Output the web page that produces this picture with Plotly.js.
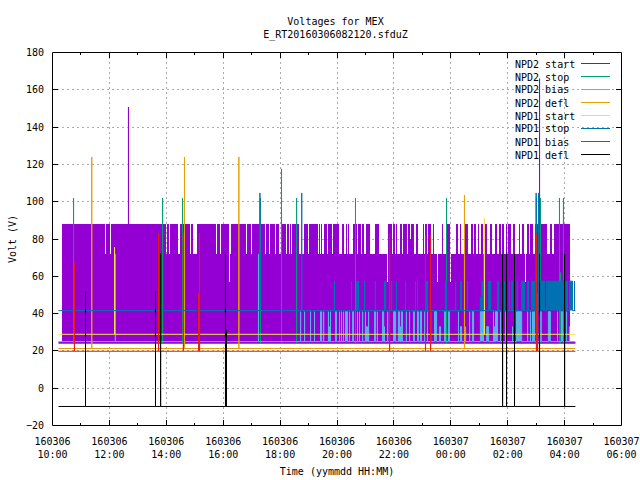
<!DOCTYPE html>
<html>
<head>
<meta charset="utf-8">
<script src="https://cdn.plot.ly/plotly-3.0.1.min.js"></script>
<style>html,body{margin:0;padding:0;background:#fff}</style>
</head>
<body>
<div id="chart" style="width:640px;height:480px"></div>
<script>
// Time axis: hours counted from 160306 00:00
const tickHours = [10,12,14,16,18,20,22,24,26,28,30];
const tickLabels = ["160306<br>10:00","160306<br>12:00","160306<br>14:00","160306<br>16:00","160306<br>18:00","160306<br>20:00","160306<br>22:00","160307<br>00:00","160307<br>02:00","160307<br>04:00","160307<br>06:00"];
const minorHours = [11,13,15,17,19,21,23,25,27,29];
const seriesNames = ["NPD2 start","NPD2 stop","NPD2 bias","NPD2 defl","NPD1 start","NPD1 stop","NPD1 bias","NPD1 defl"];
const seriesColors = ["#9400d3","#009e73","#56b4e9","#e69f00","#f0e442","#0072b2","#e51e10","#000000"];
const seriesStart = 10.21, seriesEnd = 28.38;

// NPD2 start: rapid swing between 24.5 V and 88 V (with drops to lower levels)
const startBase = 24.5, startHigh = 88, startBandBegin = 10.334, startBandEnd = 28.19;
const startGapBegin = [11.845,12.021,13.989,14.094,14.411,14.833,14.938,15.747,15.887,16.204,16.239,16.801,16.977,17.469,17.610,17.821,17.961,18.207,18.313,18.383,18.664,18.980,19.332,19.402,19.473,19.648,19.824,20.070,20.246,20.351,20.422,20.703,20.843,20.949,21.160,21.476,21.757,21.933,22.038,22.109,22.285,22.460,22.566,22.706,22.847,23.058,23.163,23.304,23.409,23.515,23.550,23.725,23.972,24.007,24.253,24.358,24.604,24.780,24.885,24.991,25.132,25.272,25.448,25.624,25.764,25.870,25.975,26.116,26.256,26.432,26.573,26.608,26.643,26.749,26.889,27.381,27.557];
const startGapEnd = [11.880,12.056,14.024,14.130,14.481,14.868,15.079,15.782,15.922,16.239,16.274,16.836,17.012,17.504,17.645,17.856,18.031,18.242,18.348,18.418,18.840,19.015,19.367,19.437,19.543,19.683,19.859,20.176,20.316,20.386,20.562,20.738,20.879,21.019,21.335,21.757,21.792,21.968,22.074,22.214,22.320,22.496,22.601,22.777,23.023,23.093,23.199,23.374,23.515,23.550,23.690,23.866,24.007,24.183,24.323,24.499,24.710,24.815,24.956,25.061,25.202,25.378,25.554,25.694,25.800,25.940,26.010,26.186,26.397,26.502,26.608,26.643,26.678,26.784,26.959,27.486,27.627];
const startGapFloor = [72,72,72,72,72,72,72,72,72,57,72,72,72,72,72,72,72,72,72,72,72,72,72,72,72,72,72,72,72,72,72,72,72,72,72,72,57,72,72,72,72,72,80,72,72,72,72,72,72,57,72,72,57,72,72,72,72,72,72,72,72,72,72,72,72,72,72,72,72,72,72,57,72,72,72,72,72];
const startSpikeTime = [12.67,27.12];
const startSpikeTop = [150.7,166];

// NPD2 stop
const stopBase2 = 24;
const stop2SpikeTime = [10.74,13.87,14.57,17.31,18.05,18.58,20.65,23.85,27.01,27.15,27.82,27.86,27.96];
const stop2SpikeTop = [102,102,102,102,117.6,102,102,102,102,102,102,62,102];

// NPD2 bias
const biasBase2 = 25;
const bias2RunBegin = [12.21,17.24,18.72,18.86,19.07,19.21,19.42,19.53,19.70,19.74,19.77,19.95,20.09,20.16,20.23,20.30,20.44,20.55,20.72,20.79,20.90,21.00,21.04,21.11,21.32,21.42,21.60,21.67,21.78,21.99,22.16,22.23,22.27,22.44,22.55,22.69,22.83,22.93,23.08,23.18,23.29,23.43,23.60,23.78,23.92,24.27,24.34,24.52,24.66,24.76,25.04,25.26,25.50,25.54,25.57,25.75,25.92,26.17,26.31,26.70,26.80,26.87,26.91,27.15,27.43,27.75,27.89,28.07,28.17];
const bias2RunEnd = [12.21,17.24,18.72,18.86,19.07,19.21,19.46,19.53,19.70,19.74,19.77,19.98,20.09,20.16,20.23,20.37,20.44,20.58,20.72,20.79,20.90,21.00,21.07,21.11,21.35,21.42,21.64,21.67,21.78,22.06,22.20,22.23,22.30,22.44,22.55,22.72,22.86,22.97,23.08,23.18,23.29,23.50,23.64,23.81,23.95,24.27,24.38,24.52,24.66,24.80,25.15,25.33,25.50,25.54,25.64,25.75,25.96,26.17,26.49,26.70,26.80,26.87,26.94,27.18,27.50,27.75,27.93,28.07,28.17];
const bias2RunTop = [72,72,41,41,41,41,41,41,41,33,41,41,41,41,41,41,41,41,41,41,41,41,33,41,41,41,41,33,41,41,41,33,41,41,41,41,41,41,41,41,41,41,33,41,41,41,33,33,41,41,41,33,41,33,41,41,41,33,41,41,41,41,41,41,41,41,41,41,33];

// NPD2 defl
const deflBase2 = 21.3;
const defl2SpikeTime = [11.38,14.64,16.55,24.48];
const defl2SpikeTop = [124,124,124,103.6];

// NPD1 start
const startBase1 = 28.9;
const start1SpikeTime = [12.18,25.18];
const start1SpikeTop = [75.7,91.2];

// NPD1 stop
const stopBase1 = 41.6;
const stop1RunBegin = [17.29,18.76,19.91,20.51,20.69,20.97,21.35,21.67,21.92,22.09,22.41,22.76,22.83,23.15,23.81,24.17,24.34,24.59,25.04,25.08,25.33,25.64,25.89,26.06,26.13,26.34,26.49,26.70,26.84,27.00,27.09,27.15,27.36,28.17,28.35];
const stop1RunEnd = [17.29,18.76,19.91,20.51,20.76,20.97,21.35,21.71,21.92,22.09,22.41,22.76,22.83,23.18,23.85,24.17,24.38,24.59,25.04,25.12,25.40,25.68,25.89,26.06,26.17,26.34,26.59,26.73,26.94,27.00,27.09,27.29,28.10,28.28,28.35];
const stop1RunTop = [104.7,104.7,57.4,57.4,57.4,57.4,57.4,57.4,57.4,57.4,57.4,57.4,57.4,57.4,57.4,57.4,57.4,57.4,49,57.4,57.4,57.4,57.4,57.4,57.4,57.4,57.4,57.4,57.4,104.7,104.7,57.4,57.4,57.4,57.4];

// NPD1 bias
const biasBase1 = 19.8;
const bias1SpikeTime = [10.77,13.73,14.60,15.14,15.17,21.85,23.11,23.29,27.01,27.05];
const bias1SpikeTop = [67.3,83,83,51,83,83,82,82,83,51];

// NPD1 defl
const deflBase1 = -9.8;
const defl1SpikeTime = [11.16,13.62,13.80,16.08,16.115,25.82,25.96,26.24,27.12,28.00];
const defl1SpikeTop = [52,52,72.5,72,31,72,72,72,72,72];

function runsPath(base, begins, ends, tops) {
  const x = [seriesStart], y = [base];
  begins.forEach((b, i) => {
    x.push(b, b, ends[i], ends[i]);
    y.push(base, tops[i], tops[i], base);
  });
  x.push(seriesEnd); y.push(base);
  return {x, y};
}
function spikeTrace(idx, base, times, tops) {
  const p = runsPath(base, times, times, tops);
  return {x:p.x, y:p.y, mode:'lines', line:{color:seriesColors[idx], width:1}, name:seriesNames[idx], showlegend:false, hoverinfo:'skip'};
}
function runTrace(idx, base, begins, ends, tops) {
  const p = runsPath(base, begins, ends, tops);
  return {x:p.x, y:p.y, mode:'lines', fill:'toself', fillcolor:seriesColors[idx], line:{color:seriesColors[idx], width:1}, name:seriesNames[idx], showlegend:false, hoverinfo:'skip'};
}
function bandTrace() {
  const x = [startBandBegin, startBandBegin], y = [startBase, startHigh];
  startGapBegin.forEach((b, i) => {
    x.push(b, b, startGapEnd[i], startGapEnd[i]);
    y.push(startHigh, startGapFloor[i], startGapFloor[i], startHigh);
  });
  x.push(startBandEnd, startBandEnd); y.push(startHigh, startBase);
  return {x, y, mode:'lines', fill:'toself', fillcolor:seriesColors[0], line:{color:seriesColors[0], width:0}, name:seriesNames[0], showlegend:false, hoverinfo:'skip'};
}

const traces = [
  bandTrace(),
  spikeTrace(0, startBase, startSpikeTime, startSpikeTop),
  spikeTrace(1, stopBase2, stop2SpikeTime, stop2SpikeTop),
  runTrace(2, biasBase2, bias2RunBegin, bias2RunEnd, bias2RunTop),
  spikeTrace(3, deflBase2, defl2SpikeTime, defl2SpikeTop),
  spikeTrace(4, startBase1, start1SpikeTime, start1SpikeTop),
  runTrace(5, stopBase1, stop1RunBegin, stop1RunEnd, stop1RunTop),
  spikeTrace(6, biasBase1, bias1SpikeTime, bias1SpikeTop),
  spikeTrace(7, deflBase1, defl1SpikeTime, defl1SpikeTop)
];

const FONT = {family:'"DejaVu Sans Mono", "Liberation Mono", monospace', size:10, color:'#000'};
const plotW = 570, plotH = 374, plotL = 52, plotT = 52;
const legendRows = [63,76,89,102,115,128,141,154];

const annotations = seriesNames.map((n, i) => ({
  xref:'paper', yref:'paper', x:(514-plotL)/plotW, y:1-(legendRows[i]+1-plotT)/plotH,
  xanchor:'left', yanchor:'middle', text:n, showarrow:false, font:FONT, borderpad:0
}));
const shapes = seriesNames.map((n, i) => ({
  type:'line', xref:'paper', yref:'paper', layer:'above',
  x0:(581-plotL)/plotW, x1:(610-plotL)/plotW,
  y0:1-(legendRows[i]+0.5-plotT)/plotH, y1:1-(legendRows[i]+0.5-plotT)/plotH,
  line:{color:seriesColors[i], width:1}
}));
shapes.push({type:'rect', xref:'paper', yref:'paper', layer:'above',
  x0:0.5/plotW, x1:(plotW-0.5)/plotW, y0:0.5/plotH, y1:(plotH-0.5)/plotH,
  line:{color:'#000', width:1}, fillcolor:'rgba(0,0,0,0)'});

const layout = {
  width:640, height:480, autosize:false,
  paper_bgcolor:'#fff', plot_bgcolor:'#fff', font:FONT, showlegend:false,
  margin:{l:plotL, r:640-plotL-plotW, t:plotT, b:480-plotT-plotH, pad:0},
  title:{text:'Voltages for MEX<br>E_RT20160306082120.sfduZ', font:FONT, x:(335.5-plotL)/plotW, xanchor:'center', xref:'paper', y:0.947, yanchor:'top'},
  xaxis:{range:[10-0.5/28.45, 30+0.5/28.45], tickmode:'array', tickvals:tickHours, ticktext:tickLabels,
    ticks:'inside', ticklen:6, tickcolor:'#000', tickwidth:1, mirror:'allticks', showline:true, linecolor:'#fff', linewidth:1, ticklabelstandoff:6,
    showgrid:true, gridcolor:'#ababab', gridwidth:1, griddash:'2px,3px', zeroline:false,
    minor:{tickvals:minorHours, ticks:'inside', ticklen:3, tickcolor:'#000', tickwidth:1, showgrid:false},
    tickfont:FONT, tickangle:0, title:{text:'Time (yymmdd HH:MM)', font:FONT, standoff:8}},
  yaxis:{range:[-20-0.5/1.865, 180+0.5/1.865], tickmode:'array', tickvals:[-20,0,20,40,60,80,100,120,140,160,180],
    ticks:'inside', ticklen:6, tickcolor:'#000', tickwidth:1, mirror:'allticks', showline:true, linecolor:'#fff', linewidth:1, ticklabelstandoff:5,
    showgrid:true, gridcolor:'#ababab', gridwidth:1, griddash:'2px,3px', zeroline:false,
    tickfont:FONT, title:{text:'Volt (V)', font:FONT, standoff:7}},
  annotations, shapes
};
Plotly.newPlot('chart', traces, layout, {staticPlot:true, displayModeBar:false});
</script>
</body>
</html>
